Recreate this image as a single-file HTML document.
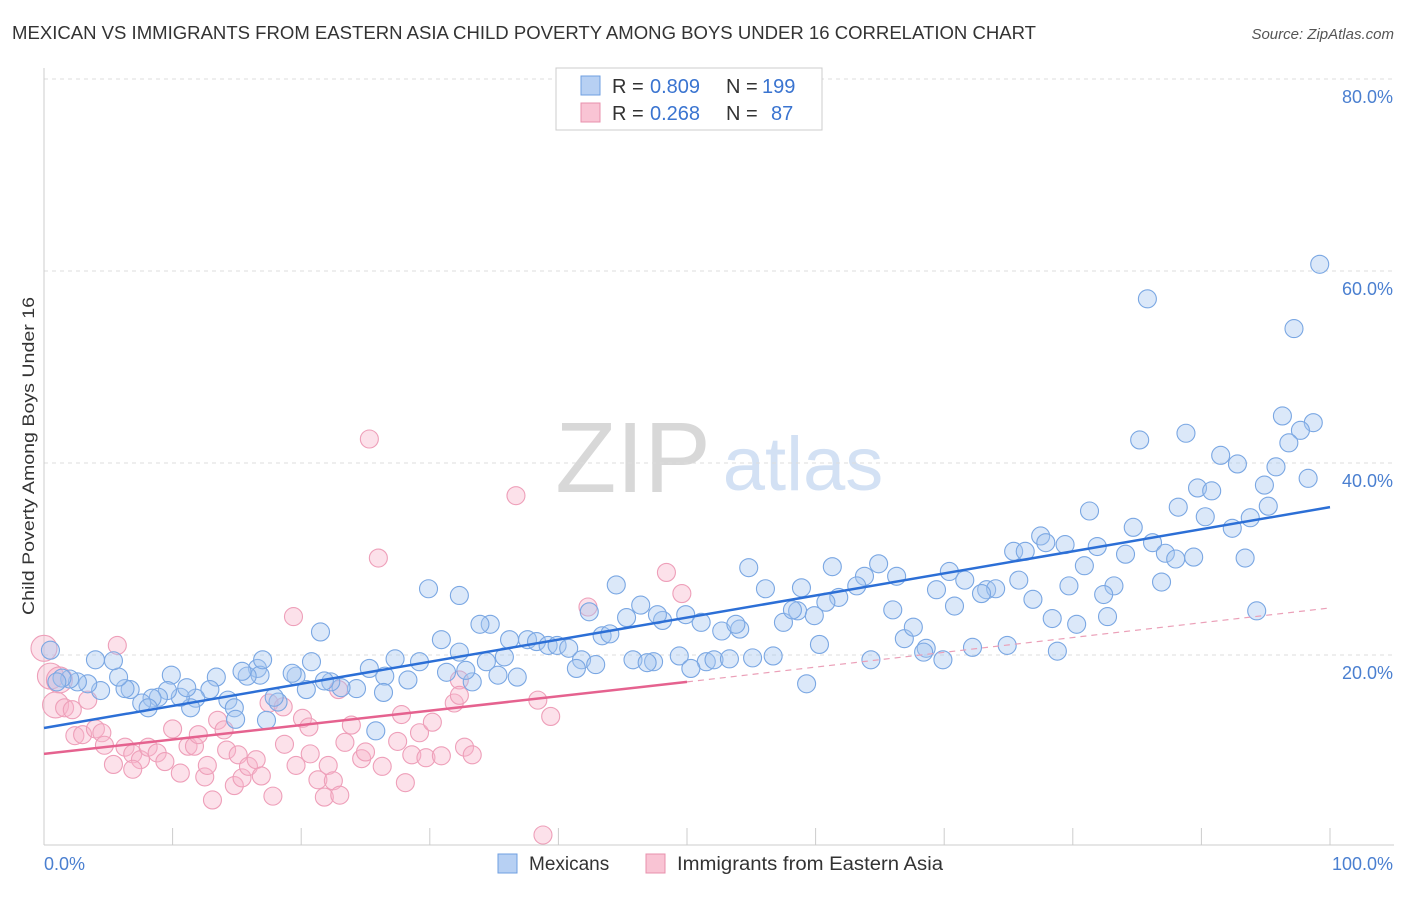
<!DOCTYPE html>
<html><head><meta charset="utf-8"><style>
body{margin:0;background:#fff;font-family:"Liberation Sans",sans-serif;}
svg text{font-family:"Liberation Sans",sans-serif;}
</style></head><body>
<svg id="chart" width="1406" height="892" xmlns="http://www.w3.org/2000/svg">
<text x="12" y="39" font-size="18" fill="#333" textLength="1024" lengthAdjust="spacingAndGlyphs">MEXICAN VS IMMIGRANTS FROM EASTERN ASIA CHILD POVERTY AMONG BOYS UNDER 16 CORRELATION CHART</text>
<text x="1394" y="39" font-size="15" font-style="italic" fill="#555" text-anchor="end">Source: ZipAtlas.com</text>
<g>
<text x="633" y="492" font-size="100" font-family="Liberation Serif,serif" fill="#d8d8d8" text-anchor="middle">ZIP</text>
<text x="803" y="490" font-size="76" fill="#d3e1f4" text-anchor="middle">atlas</text>
</g>
<g id="grid"></g>
<g id="axes"></g>
<g id="pink"></g>
<g id="blue"></g>
<g id="trends"></g>
<text transform="translate(34,456) rotate(-90)" font-size="17" fill="#333" text-anchor="middle" textLength="318" lengthAdjust="spacingAndGlyphs">Child Poverty Among Boys Under 16</text>
<g>
<rect x="556" y="68" width="266" height="62" fill="#fff" stroke="#ccc"/>
<rect x="581" y="76" width="19" height="19" fill="#b7d0f3" stroke="#6f9fe0"/>
<rect x="581" y="103" width="19" height="19" fill="#f9c4d4" stroke="#e890ad"/>
<text x="612" y="93" font-size="20" fill="#333">R =</text>
<text x="650" y="93" font-size="20" fill="#3a74d0">0.809</text>
<text x="726" y="93" font-size="20" fill="#333">N =</text>
<text x="762" y="93" font-size="20" fill="#3a74d0">199</text>
<text x="612" y="120" font-size="20" fill="#333">R =</text>
<text x="650" y="120" font-size="20" fill="#3a74d0">0.268</text>
<text x="726" y="120" font-size="20" fill="#333">N =</text>
<text x="771" y="120" font-size="20" fill="#3a74d0">87</text>
</g>
<g>
<rect x="498" y="854" width="19" height="19" fill="#b7d0f3" stroke="#6f9fe0"/>
<text x="529" y="870" font-size="19" fill="#333">Mexicans</text>
<rect x="646" y="854" width="19" height="19" fill="#f9c4d4" stroke="#e890ad"/>
<text x="677" y="870" font-size="19" fill="#333" textLength="266" lengthAdjust="spacingAndGlyphs">Immigrants from Eastern Asia</text>
</g>
</svg>
<script>
const yTicks=[20,40,60,80];
const yTickLabels=["20.0%","40.0%","60.0%","80.0%"];
const xTicks=[0,10,20,30,40,50,60,70,80,90,100];
const xEndLabels=["0.0%","100.0%"];
const blueX=[99.2,85.8,97.2,85.2,88.8,96.3,98.7,97.7,96.8,91.5,92.8,95.8,94.9,98.3,89.7,90.8,88.2,90.3,93.8,95.2,81.3,84.7,92.4,77.5,77.9,75.4,76.3,79.4,81.9,84.1,86.2,87.2,88.0,89.4,93.4,80.9,86.9,83.2,82.4,79.7,75.8,76.9,73.3,74.0,72.9,71.6,70.4,69.4,70.8,66.3,64.9,63.8,63.2,61.3,61.8,60.8,58.9,58.6,59.9,57.5,58.2,56.1,54.8,54.1,52.7,53.8,51.1,49.9,48.1,47.7,46.4,44.5,45.3,43.4,44.0,42.4,32.3,29.9,34.7,33.9,32.3,30.9,36.2,37.6,38.3,39.2,39.9,40.8,41.8,42.9,41.4,45.8,47.4,49.4,51.5,52.1,53.3,55.1,56.7,60.3,64.3,66.9,68.6,68.4,69.9,72.2,74.9,78.8,80.3,78.4,82.7,94.3,67.6,66.0,59.3,50.3,46.9,35.8,34.4,35.3,36.8,33.3,32.8,31.3,29.2,28.3,27.3,26.5,25.3,26.4,25.8,24.3,23.1,22.3,21.8,20.8,20.4,21.5,19.6,19.3,18.2,17.9,17.3,16.6,16.8,15.8,15.4,14.3,14.8,13.4,14.9,12.9,11.8,11.4,10.6,9.9,9.6,8.9,8.4,7.6,8.1,6.7,6.3,5.8,5.4,4.0,4.4,3.4,2.6,2.0,1.4,1.0,0.5,17.0,11.1];
const blueY=[60.7,57.1,54.0,42.4,43.1,44.9,44.2,43.4,42.1,40.8,39.9,39.6,37.7,38.4,37.4,37.1,35.4,34.4,34.3,35.5,35.0,33.3,33.2,32.4,31.7,30.8,30.8,31.5,31.3,30.5,31.7,30.6,30.0,30.2,30.1,29.3,27.6,27.2,26.3,27.2,27.8,25.8,26.8,26.9,26.4,27.8,28.7,26.8,25.1,28.2,29.5,28.2,27.2,29.2,26.0,25.5,27.0,24.6,24.1,23.4,24.7,26.9,29.1,22.7,22.5,23.2,23.4,24.2,23.6,24.2,25.2,27.3,23.9,22.0,22.2,24.5,26.2,26.9,23.2,23.2,20.3,21.6,21.6,21.6,21.4,21.0,21.0,20.7,19.5,19.0,18.6,19.5,19.3,19.9,19.3,19.5,19.6,19.7,19.9,21.1,19.5,21.7,20.7,20.3,19.5,20.8,21.0,20.4,23.2,23.8,24.0,24.6,22.9,24.7,17.0,18.6,19.2,19.8,19.3,17.9,17.7,17.2,18.4,18.2,19.3,17.4,19.6,17.8,18.6,16.1,12.1,16.5,16.6,17.2,17.3,19.3,16.4,22.4,17.8,18.1,15.1,15.6,13.2,18.6,17.9,17.8,18.3,15.3,14.5,17.7,13.3,16.4,15.5,14.5,15.6,17.9,16.3,15.6,15.5,15.0,14.5,16.4,16.5,17.7,19.4,19.5,16.3,17.0,17.2,17.5,17.6,17.2,20.5,19.5,16.6];
const pinkX=[25.3,36.7,26.0,48.4,49.6,42.3,19.4,5.7,0,0.5,1.2,0.9,1.6,2.2,3.4,2.4,3.0,4.0,4.5,4.7,5.4,6.3,6.9,7.5,6.9,8.1,8.8,9.4,10.0,10.6,11.2,11.7,12.0,12.5,12.7,13.1,13.5,14.0,14.2,14.8,15.1,15.4,15.9,16.5,16.9,17.8,17.5,18.6,18.7,19.6,20.1,20.6,20.7,21.3,21.8,22.1,22.5,23.0,22.9,23.4,23.9,24.7,25.0,26.3,27.5,27.8,28.1,28.6,29.2,29.7,30.2,30.9,31.9,32.3,32.3,32.7,33.3,38.4,39.4,38.8];
const pinkY=[42.5,36.6,30.1,28.6,26.4,25.0,24.0,21.0,20.7,17.8,17.4,14.8,14.5,14.3,15.3,11.6,11.7,12.3,11.9,10.6,8.6,10.4,9.7,9.1,8.1,10.4,9.8,8.9,12.3,7.7,10.5,10.5,11.7,7.3,8.5,4.9,13.2,12.2,10.1,6.4,9.6,7.2,8.4,9.1,7.4,5.3,15.0,14.6,10.7,8.5,13.4,12.5,9.7,7.0,5.2,8.5,6.9,5.4,16.4,10.9,12.7,9.2,9.9,8.4,11.0,13.8,6.7,9.6,11.9,9.3,13.0,9.5,15.0,17.4,15.8,10.4,9.6,15.3,13.6,1.25];
const blueTrend=[12.4,35.4];
const pinkTrend=[9.7,17.2,24.9];
const X0=44,X1=1330,Y0=847,PXY=9.6;
const sx=v=>X0+(X1-X0)*v/100;
const sy=v=>Y0-v*PXY;
const NS="http://www.w3.org/2000/svg";
function mk(tag,attrs,parent){const e=document.createElementNS(NS,tag);for(const k in attrs)e.setAttribute(k,attrs[k]);document.getElementById(parent).appendChild(e);return e;}
yTicks.forEach((t,i)=>{
 const l=mk('line',{x1:44,x2:1394,y1:sy(t),y2:sy(t),stroke:'#ddd','stroke-dasharray':'4,4'},'grid');
 
 
 const tx=mk('text',{x:1393,y:sy(t)+24,'font-size':18,fill:'#4a7fd0','text-anchor':'end'},'axes');
 tx.textContent=yTickLabels[i];
 
 
});
const ax=mk('line',{x1:44,x2:1394,y1:845,y2:845,stroke:'#ccc'},'axes');


const ay=mk('line',{x1:44,x2:44,y1:68,y2:845,stroke:'#ccc'},'axes');


xTicks.forEach(t=>{
 const l=mk('line',{x1:sx(t),x2:sx(t),y1:828,y2:845,stroke:'#ccc'},'axes');
 
 
});
const xl0=mk('text',{x:44,y:870,'font-size':18,fill:'#4a7fd0'},'axes');xl0.textContent=xEndLabels[0];


const xl1=mk('text',{x:1393,y:870,'font-size':18,fill:'#4a7fd0','text-anchor':'end'},'axes');xl1.textContent=xEndLabels[1];


pinkX.forEach((x,i)=>{
 const r=(x<1.5&&pinkY[i]>14)?13:9;
 const c=mk('circle',{cx:sx(x),cy:sy(pinkY[i]),r:r,fill:'rgba(247,180,202,0.4)',stroke:'#ee9fb9','stroke-width':1.1},'pink');
 
 
});
blueX.forEach((x,i)=>{
 const c=mk('circle',{cx:sx(x),cy:sy(blueY[i]),r:9,fill:'rgba(165,198,240,0.4)',stroke:'#7aa7e3','stroke-width':1.1},'blue');
 
 
});
const bt=mk('line',{x1:sx(0),y1:sy(blueTrend[0]),x2:sx(100),y2:sy(blueTrend[1]),stroke:'#2c6fd6','stroke-width':2.5},'trends');


const pt=mk('line',{x1:sx(0),y1:sy(pinkTrend[0]),x2:sx(50),y2:sy(pinkTrend[1]),stroke:'#e5628f','stroke-width':2.5},'trends');


const pd=mk('line',{x1:sx(50),y1:sy(pinkTrend[1]),x2:sx(100),y2:sy(pinkTrend[2]),stroke:'#eba0b8','stroke-width':1.2,'stroke-dasharray':'6,5'},'trends');


</script>
</body></html>
